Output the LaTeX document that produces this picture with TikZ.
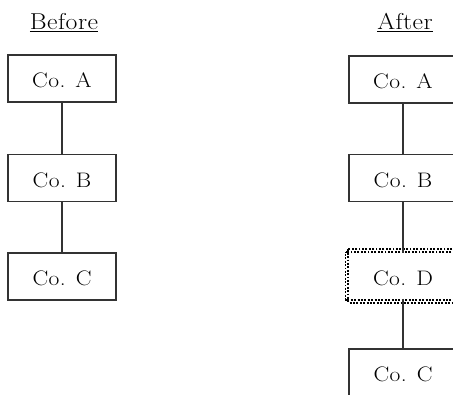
\documentclass[tikz,border=0pt]{standalone}
\usepackage{fontspec}
\setmainfont{Latin Modern Roman}[FakeStretch=1.12,LetterSpace=2]
\begin{document}
\begin{tikzpicture}[x=1pt,y=-1pt,
  cobox/.style={draw=black!80,line width=1.2pt,minimum width=108pt,minimum height=47pt,inner sep=0pt,text height=19pt,text depth=0pt,font=\fontsize{21}{24}\selectfont},
  conn/.style={draw=black!80,line width=1.2pt},
  dots/.style={line width=1.9pt,dash pattern=on 1.9pt off 1.5pt},
  heading/.style={font=\fontsize{23}{26}\selectfont,inner sep=0pt,anchor=base}]
\useasboundingbox (0,0) rectangle (453,395);
\clip (0,0) rectangle (453,395);
\node[heading] (before) at (64,30) {\underline{Before}};
\node[heading] (after) at (405,30) {\underline{After}};
\node[cobox] (la) at (62,78.5) {Co. A};
\node[cobox] (lb) at (62,178) {Co. B};
\node[cobox] (lc) at (62,276.5) {Co. C};
\draw[conn] (la) -- (lb);
\draw[conn] (lb) -- (lc);
\node[cobox] (ra) at (403,79.5) {Co. A};
\node[cobox] (rb) at (403,178) {Co. B};
\node[cobox,draw=none,minimum height=50pt,minimum width=110pt] (rd) at (403,276) {Co. D};
\draw[dots] ([shift={(1pt,1pt)}]rd.north west) rectangle ([shift={(-1pt,-1pt)}]rd.south east);
\draw[dots,dash phase=1.7pt] ([shift={(-1.9pt,-1.9pt)}]rd.north west) rectangle ([shift={(1.9pt,1.9pt)}]rd.south east);
\node[cobox] (rc) at (403,372.5) {Co. C};
\draw[conn] (ra) -- (rb);
\draw[conn] (rb) -- ([yshift=-2.8pt]rd.north);
\draw[conn] ([yshift=2.8pt]rd.south) -- (rc);
\end{tikzpicture}
\end{document}
